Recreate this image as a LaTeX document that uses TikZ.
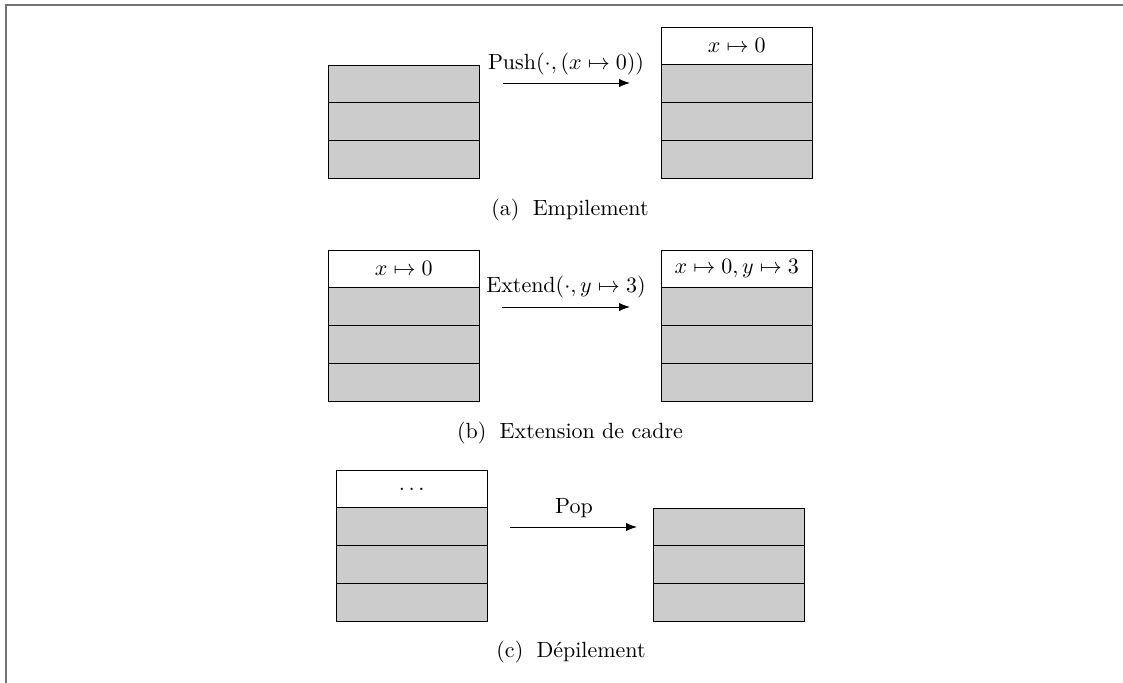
\documentclass[tikz,border=0pt]{standalone}
\usetikzlibrary{arrows.meta}
\tikzset{
  cell/.style={draw=black, line width=0.45pt, minimum width=68.86pt, minimum height=17.18pt,
    inner sep=0pt, outer sep=0pt, anchor=north west},
  full/.style={cell, fill=black!20},
  blank/.style={cell, fill=white},
  arr/.style={-{Latex[length=5pt,width=3.8pt]}, line width=0.45pt},
  lbl/.style={anchor=base, inner sep=0pt},
  framebox/.style={draw=black!55, line width=0.9pt}
}
\begin{document}
\begin{tikzpicture}[x=0.4545pt, y=-0.4545pt]
\useasboundingbox (0,0) rectangle (1123,682);
% outer frame
\draw[framebox] (6,700) -- (6,5) -- (1130,5);

% (a) Empilement
\node[full] (a1) at (328,65) {};
\node[full] (a2) at (a1.south west) {};
\node[full] (a3) at (a2.south west) {};
\node[blank] (a4) at (661,27) {$x\mapsto 0$};
\node[full] (a5) at (a4.south west) {};
\node[full] (a6) at (a5.south west) {};
\node[full] (a7) at (a6.south west) {};
\coordinate (pa1) at (503,83);
\coordinate (pa2) at (630,83);
\draw[arr] (pa1) -- (pa2);
\node[lbl] (la) at (566,69) {$\mathrm{Push}(\cdot,(x\mapsto 0))$};
\node[lbl] (ca) at (570,215) {(a)\hspace{0.6em}Empilement};

% (b) Extension de cadre
\node[blank] (b1) at (328,250) {$x\mapsto 0$};
\node[full] (b2) at (b1.south west) {};
\node[full] (b3) at (b2.south west) {};
\node[full] (b4) at (b3.south west) {};
\node[blank] (b5) at (661,250) {$x\mapsto 0, y\mapsto 3$};
\node[full] (b6) at (b5.south west) {};
\node[full] (b7) at (b6.south west) {};
\node[full] (b8) at (b7.south west) {};
\coordinate (pb1) at (502,307);
\coordinate (pb2) at (630,307);
\draw[arr] (pb1) -- (pb2);
\node[lbl] (lb) at (566,292) {$\mathrm{Extend}(\cdot,y\mapsto 3)$};
\node[lbl] (cb) at (570,438) {(b)\hspace{0.6em}Extension de cadre};

% (c) Dépilement
\node[blank] (c1) at (336,470) {$\dots$};
\node[full] (c2) at (c1.south west) {};
\node[full] (c3) at (c2.south west) {};
\node[full] (c4) at (c3.south west) {};
\node[full] (c5) at (653,508) {};
\node[full] (c6) at (c5.south west) {};
\node[full] (c7) at (c6.south west) {};
\coordinate (pc1) at (510,527);
\coordinate (pc2) at (637,527);
\draw[arr] (pc1) -- (pc2);
\node[lbl] (lc) at (574,513) {Pop};
\node[lbl] (cc) at (571,657) {(c)\hspace{0.6em}D\'epilement};
\end{tikzpicture}
\end{document}
